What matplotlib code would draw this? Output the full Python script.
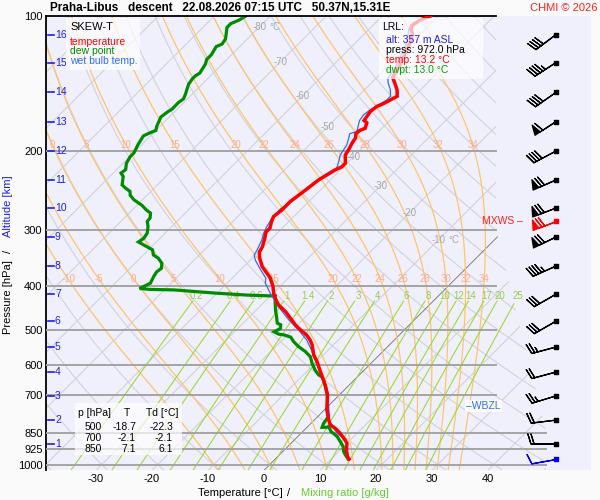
import numpy as np
import matplotlib
matplotlib.use("Agg")
import matplotlib.pyplot as plt
from matplotlib.patches import Polygon, Rectangle

plt.rcParams['font.family'] = ['Liberation Sans', 'DejaVu Sans']

# ---------------- data ----------------
station = "Praha-Libus"
mode = "descent"
stamp = "22.08.2026 07:15 UTC"
coords = "50.37N,15.31E"

# temperature profile
t_p = [972, 961, 928, 897, 882, 852, 830, 816, 796, 756, 700, 668, 648, 616, 590, 570, 541, 528,
       514, 500, 488, 472, 456, 441, 426, 415, 401, 384, 375, 362, 347, 336, 327, 313, 303, 297,
       287, 280, 271, 259, 246, 232, 220, 217, 213, 204, 199, 192, 187, 183, 180, 178, 173, 171,
       163, 159, 157, 154, 151, 146, 142, 137, 132, 125, 119, 114, 110, 107, 105, 102, 100]
t_val = [13.2, 12.5, 11.1, 10.0, 9.1, 7.0, 5.2, 3.75, 2.6, 0.5, -2.1, -4.1, -5.5, -7.9, -9.9, -11.7,
         -13.8, -15.0, -16.6, -18.7, -20.4, -22.4, -24.5, -26.9, -28.7, -29.9, -31.2, -33.2, -34.6,
         -36.7, -38.6, -39.8, -40.2, -41.3, -42.2, -42.2, -43.1, -43.6, -43.3, -43.3, -42.7, -42.1,
         -40.9, -40.3, -40.3, -41.8, -42.1, -42.7, -43.0, -43.7, -43.6, -43.0, -43.7, -44.6, -45.1,
         -44.8, -44.2, -43.6, -43.0, -44.2, -45.5, -47.2, -47.7, -48.6, -49.6, -50.4, -51.3, -52.5,
         -53.0, -52.5, -51.4]

# dew point profile
td_p = [972, 952, 936, 912, 889, 878, 867, 852, 845, 823, 826, 826, 809, 796, 782, 756, 700, 668,
        648, 638, 631, 616, 595, 575, 560, 546, 532, 520, 514, 512, 506, 497, 488, 484, 468, 452,
        430, 421, 419, 415, 408, 407, 405, 401, 394, 381, 372, 365, 356, 347, 341, 332, 327, 321,
        319, 313, 305, 295, 287, 282, 275, 271, 264, 257, 251, 246, 242, 238, 228, 224, 220, 213,
        206, 202, 193, 185, 182, 180, 176, 168, 164, 161, 156, 153, 149, 142, 138, 136, 134, 128,
        125, 122, 117, 115.5, 112.5, 106, 104, 102, 101, 100]
td_val = [13.0, 11.8, 10.9, 9.9, 8.5, 7.8, 7.1, 5.8, 5.1, 3.75, 3.45, 2.7, 2.25, 2.1, 1.9, 0.5,
          -2.1, -4.1, -5.5, -6.3, -7.3, -8.75, -10.5, -12.0, -13.8, -15.9, -17.7, -19.0, -20.6,
          -21.7, -22.9, -22.4, -23.0, -23.9, -25.2, -26.6, -28.4, -29.1, -34.3, -40.0, -48.3, -52.6,
          -54.7, -54.3, -53.7, -54.3, -54.6, -54.4, -55.2, -56.7, -58.2, -59.3, -60.8, -62.6, -63.2,
          -62.9, -63.2, -64.2, -65.3, -65.4, -66.2, -67.4, -69.2, -71.5, -73.0, -73.75, -75.1, -76.3,
          -77.6, -78.6, -78.4, -79.4, -79.9, -79.9, -80.7, -81.25, -80.6, -80.0, -80.6, -81.5,
          -81.25, -80.9, -80.96, -80.7, -81.25, -82.4, -82.7, -82.7, -82.4, -83.0, -83.6, -83.6,
          -84.2, -83.6, -83.9, -85.7, -85.7, -84.8, -84.6, -84.4]

# wet bulb temperature profile
tw_p = [972, 961, 928, 892, 867, 855, 838, 823, 796, 743, 700, 668, 648, 637, 610, 590, 560, 528,
        501, 476, 445, 415, 394, 384, 368, 350, 341, 332, 316, 305, 295, 282, 269, 259, 242, 230,
        222, 219, 211, 204, 199, 194, 187, 183, 181, 177, 171, 166, 162, 158, 154, 151, 146, 141,
        138, 132, 125, 119, 114, 107, 105.6, 103.8, 100.7, 100]
tw_val = [13.1, 12.4, 10.9, 9.9, 7.9, 6.7, 5.5, 4.4, 2.7, 0.2, -2.1, -4.1, -5.5, -6.4, -8.5, -10.1,
          -12.6, -15.6, -18.9, -22.4, -26.6, -30.5, -33.2, -34.0, -36.4, -39.1, -40.2, -40.6, -41.5,
          -42.4, -43.0, -43.6, -43.75, -43.0, -42.7, -42.1, -41.5, -40.9, -41.8, -42.7, -43.0, -43.3,
          -44.2, -44.8, -43.9, -44.5, -45.4, -45.7, -45.4, -44.8, -44.2, -44.2, -45.4, -47.0, -47.8,
          -48.3, -49.2, -50.2, -51.0, -52.9, -53.1, -53.2, -52.1, -51.6]

# altitude scale (km) and the pressure where each km sits
alt_km = [1, 2, 3, 4, 5, 6, 7, 8, 9, 10, 11, 12, 13, 14, 15, 16]
alt_p = [900, 796, 703, 622, 547, 479, 417, 361, 311, 268, 232, 200, 172, 148, 127, 110]

# winds: surface + every km
wind_p = [972] + alt_p
wind_dir = [260, 270, 263, 253, 255, 255, 240, 240, 246, 244, 249, 246, 242, 237, 235, 237, 233]
wind_spd = [10, 20, 20, 25, 20, 25, 30, 30, 45, 70, 70, 70, 40, 60, 40, 45, 40]
mxws_p, mxws_dir, mxws_spd = 287, 249, 70
wbzl_p = 740

# lowest reported level
lrl_alt, lrl_press, lrl_temp, lrl_dwpt = 357, 972.0, 13.2, 13.0

# summary table
tab_p = [500, 700, 850]
tab_t = [-18.7, -2.1, 7.1]
tab_td = [-22.3, -2.1, 6.1]

# diagram furniture
p_ticks = [100, 200, 300, 400, 500, 600, 700, 850, 925, 1000]
t_ticks = [-30, -20, -10, 0, 10, 20, 30, 40]
isotherms = list(range(-120, 60, 10))
dry_theta = list(range(-40, 210, 10))
moist_thw = [-10, -5, 0, 5, 10, 15, 20, 22, 24, 26, 28, 30, 32, 34]
mix_ratios = [0.2, 0.4, 0.6, 1, 1.4, 2, 3, 4, 6, 8, 10, 12, 14, 17, 20, 25]
iso_lab_t = [-80, -70, -60, -50, -40, -30, -20, -10]
iso_lab_p = [105.8, 126.6, 150.8, 176.8, 206.2, 239.3, 274.9, 315.8]

# ---------------- layout ----------------
W, H = 600, 500
P_BOT, P_TOP = 1030.0, 100.0
PXC = 5.6                     # px per degC
PXL = 194.8                   # px per ln(p)
SKEW = PXL / PXC              # 45 degree skew
X0PX = 264.0                  # px of 0 degC at bottom


def px2X(px):
    return (px - X0PX) / PXC


def py2p(py):
    return 100.0 * np.exp((py - 16.0) / PXL)


def sk(T, p):
    return np.asarray(T, float) + SKEW * np.log(P_BOT / np.asarray(p, float))


def fx(px):
    return px / W


def fy(py):
    return 1 - py / H


XMIN, XMAX = px2X(46), px2X(591)
ybot = 16 + PXL * np.log(P_BOT / 100.0)

fig = plt.figure(figsize=(6, 5), dpi=100, facecolor='#FAFAFA')
ax = fig.add_axes([46 / W, 1 - ybot / H, 545 / W, (ybot - 16) / H])
ax.set_yscale('log')
ax.set_ylim(P_BOT, P_TOP)
ax.set_xlim(XMIN, XMAX)
ax.set_facecolor('#F0F0FC')
for s in ['top', 'right', 'bottom']:
    ax.spines[s].set_visible(False)
ax.spines['left'].set_linewidth(1.3)
ax.spines['left'].set_color('black')

clip = Polygon([(XMIN, P_TOP), (px2X(496), P_TOP), (px2X(496), py2p(230)),
                (px2X(546), py2p(430)), (px2X(546), P_BOT), (XMIN, P_BOT)],
               closed=True, transform=ax.transData, fc='none', ec='none')

pg = np.geomspace(P_TOP, P_BOT, 80)
# isotherms
for T in isotherms:
    if T == 0:
        ln, = ax.plot(sk(T, pg), pg, color='#6E6E6E', lw=0.6, zorder=2)
    else:
        ln, = ax.plot(sk(T, pg), pg, color='#D2D2DA', lw=0.8, zorder=1)
    ln.set_clip_path(clip)
# dry adiabats
for th in dry_theta:
    Tt = (th + 273.15) * (pg / 1000.0) ** 0.2857 - 273.15
    ln, = ax.plot(sk(Tt, pg), pg, color='#D2D2DA', lw=0.8, zorder=1)
    ln.set_clip_path(clip)


# moist (pseudo) adiabats
def dTdp(T, p):
    es = 6.112 * np.exp(17.67 * (T - 273.15) / (T - 29.65))
    rs = 0.622 * es / (p - es)
    num = 287.04 * T + 2.501e6 * rs
    den = 1005.7 + (2.501e6 ** 2) * rs * 0.622 / (287.04 * T * T)
    return num / den / p


def integrate(T0, p0, p1, n):
    h = (p1 - p0) / n
    T = T0.copy()
    p = p0
    out = [T.copy()]
    ps = [p]
    for _ in range(n):
        k1 = dTdp(T, p)
        k2 = dTdp(T + h / 2 * k1, p + h / 2)
        k3 = dTdp(T + h / 2 * k2, p + h / 2)
        k4 = dTdp(T + h * k3, p + h)
        T = T + h / 6 * (k1 + 2 * k2 + 2 * k3 + k4)
        p = p + h
        out.append(T.copy())
        ps.append(p)
    return np.array(ps), np.array(out)


thw = np.array(moist_thw, float) + 273.15
pu, Tu = integrate(thw, 1000.0, P_TOP, 900)
pd, Td_ = integrate(thw, 1000.0, P_BOT, 30)
mp = np.concatenate([pd[::-1], pu[1:]])
mT = np.concatenate([Td_[::-1], Tu[1:]]) - 273.15
for i, tw in enumerate(moist_thw):
    ln, = ax.plot(sk(mT[:, i], mp), mp, color='#FFC46A', lw=0.9, zorder=2)
    ln.set_clip_path(clip)


def moist_T_at(i, p):
    lp = np.log(mp[::-1])
    return np.interp(np.log(p), lp, mT[::-1, i])


for i, tw in enumerate(moist_thw):
    for plab in (193.9, 385.8):
        X = sk(moist_T_at(i, plab), plab)
        if XMIN + 0.8 < X < XMAX:
            ax.text(X, plab, f"{tw:g}", color='#FFAA8C', fontsize=7, ha='center', va='center',
                    zorder=3)

# mixing ratio lines
pm = np.geomspace(432, P_BOT, 40)
for w in mix_ratios:
    es = (w / 1000.0) * pm / (0.622 + w / 1000.0)
    l = np.log(es / 6.112)
    Tm = 243.5 * l / (17.67 - l)
    ln, = ax.plot(sk(Tm, pm), pm, color='#A0D83A', lw=0.8, zorder=2)
    ln.set_clip_path(clip)
    pl = 421.0
    esl = (w / 1000.0) * pl / (0.622 + w / 1000.0)
    ll = np.log(esl / 6.112)
    ax.text(sk(243.5 * ll / (17.67 - ll), pl), pl, f"{w:g}", color='#99CC44', fontsize=7,
            ha='center', va='center', zorder=3)

# isotherm labels
for T, p in zip(iso_lab_t, iso_lab_p):
    ax.text(sk(T, p), p, f"{T}", color='#A8A8A8', fontsize=7, ha='center', va='center', zorder=3)
    if T in (-80, -10):
        ax.annotate("°C", xy=(sk(T, p), p), xytext=(10, 0), textcoords='offset pixels',
                    color='#A8A8A8', fontsize=7, ha='left', va='center', zorder=3)

# isobars
for p in p_ticks[1:]:
    xr = px2X(546) if p >= 850 else px2X(496)
    ax.plot([XMIN, xr], [p, p], color='#A4A4A4', lw=1.4, zorder=3)
ax.plot([XMIN, px2X(496)], [P_TOP, P_TOP], color='black', lw=1.3, zorder=6, clip_on=False)

# profiles
ax.plot(sk(td_val, td_p), td_p, color='#008C00', lw=2.3, zorder=5, solid_joinstyle='miter')
ax.plot(sk(tw_val, tw_p), tw_p, color='#2F6BFF', lw=0.9, zorder=5)
ax.plot(sk(t_val, t_p), t_p, color='#FF0000', lw=2.5, zorder=6, solid_joinstyle='miter')

# altitude ticks
for km, p in zip(alt_km, alt_p):
    ax.plot([px2X(47.5), px2X(53.5)], [p, p], color='#1E1EE6', lw=1.2, zorder=7, clip_on=False)
    ax.text(px2X(55), p, str(km), color='#1E1EE6', fontsize=7.5, ha='left', va='center', zorder=7)

# wind barbs
BL = 6.0
bx = px2X(556)
d = np.deg2rad(np.array(wind_dir, float))
s = np.array(wind_spd, float)
u = -s * np.sin(d)
v = -s * np.cos(d)
ax.barbs(np.full(len(wind_p) - 1, bx), wind_p[1:], u[1:], v[1:], length=BL, color='black',
         lw=0.9, zorder=7)
ax.barbs([bx], [wind_p[0]], [u[0]], [v[0]], length=BL, color='#0000EE', lw=0.9, zorder=7)
dm = np.deg2rad(mxws_dir)
ax.barbs([bx], [mxws_p], [-mxws_spd * np.sin(dm)], [-mxws_spd * np.cos(dm)], length=BL,
         color='#FF0000', lw=0.9, zorder=7)
ax.scatter(np.full(len(wind_p) - 1, bx), wind_p[1:], s=7, marker='s', color='black', zorder=8)
ax.scatter([bx], [wind_p[0]], s=7, marker='s', color='#0000EE', zorder=8)
ax.scatter([bx], [mxws_p], s=7, marker='s', color='#FF0000', zorder=8)
ax.text(px2X(482), mxws_p, "MXWS –", color='#FF2020', fontsize=7.5, ha='left', va='center',
        zorder=8)

# WBZL
ax.text(px2X(466), wbzl_p, "–WBZL", color='#2F6BFF', fontsize=7.5, ha='left', va='center',
        zorder=8, bbox=dict(boxstyle='square,pad=0.1', fc='white', ec='none', alpha=0.85))

# axes ticks
ax.set_yticks(p_ticks)
ax.set_yticklabels([str(p) for p in p_ticks])
ax.yaxis.set_minor_locator(matplotlib.ticker.NullLocator())
ax.set_xticks(t_ticks)
ax.set_xticklabels([str(t) for t in t_ticks])
ax.tick_params(axis='y', length=0, pad=2.5, labelsize=8)
ax.tick_params(axis='x', length=0, pad=3, labelsize=8)

# legend box
fig.patches.append(Rectangle((fx(66), fy(70)), 74 / W, 52 / H, transform=fig.transFigure,
                             fc='white', ec='none', alpha=0.7, zorder=10))
fig.text(fx(70), fy(26.5), "SKEW-T", fontsize=8, color='black', va='center', zorder=11)
fig.text(fx(70), fy(42), "temperature", fontsize=7.5, color='#FF0000', va='center', zorder=11)
fig.text(fx(70), fy(51.5), "dew point", fontsize=7.5, color='#008C00', va='center', zorder=11)
fig.text(fx(70), fy(61.5), "wet bulb temp.", fontsize=7.5, color='#2F6BFF', va='center', zorder=11)

# LRL box
fig.patches.append(Rectangle((fx(379), fy(79)), 104 / W, 61 / H, transform=fig.transFigure,
                             fc='white', ec='none', alpha=0.7, zorder=10))
fig.text(fx(382), fy(27.5), "LRL:", fontsize=7.5, color='black', va='center', zorder=11)
fig.text(fx(386), fy(40), f"alt: {lrl_alt} m ASL", fontsize=7.5, color='#1E1EE6', va='center', zorder=11)
fig.text(fx(386), fy(50), f"press: {lrl_press:.1f} hPa", fontsize=7.5, color='black', va='center', zorder=11)
fig.text(fx(386), fy(60), f"temp: {lrl_temp:.1f} °C", fontsize=7.5, color='#FF0000', va='center', zorder=11)
fig.text(fx(386), fy(70), f"dwpt: {lrl_dwpt:.1f} °C", fontsize=7.5, color='#00A000', va='center', zorder=11)

# table box
fig.patches.append(Rectangle((fx(75), fy(455)), 107 / W, 52 / H, transform=fig.transFigure,
                             fc='white', ec='none', alpha=0.7, zorder=10))
fig.text(fx(78), fy(413.5), "p [hPa]", fontsize=7.5, va='center', zorder=11)
fig.text(fx(127), fy(413.5), "T", fontsize=7.5, va='center', ha='center', zorder=11)
fig.text(fx(146), fy(413.5), "Td [°C]", fontsize=7.5, va='center', zorder=11)
for k, (p, t, td) in enumerate(zip(tab_p, tab_t, tab_td)):
    yy = 427 + 11 * k
    fig.text(fx(102), fy(yy), f"{p}", fontsize=7.5, va='center', ha='right', zorder=11)
    fig.text(fx(136), fy(yy), f"{t:.1f}", fontsize=7.5, va='center', ha='right', zorder=11)
    fig.text(fx(173), fy(yy), f"{td:.1f}", fontsize=7.5, va='center', ha='right', zorder=11)

# titles and axis labels
fig.text(fx(50), fy(8), f"{station}   {mode}   {stamp}   {coords}", fontsize=8.5,
         fontweight='bold', va='center', ha='left')
fig.text(fx(597), fy(8), "CHMI © 2026", fontsize=8, color='#FF2020', va='center', ha='right')
fig.text(fx(240), fy(493), "Temperature [°C]", fontsize=8, ha='center', va='center')
fig.text(fx(289), fy(493), "/", fontsize=8, ha='center', va='center')
fig.text(fx(344.5), fy(493), "Mixing ratio [g/kg]", fontsize=8, color='#66CC33', ha='center', va='center')
fig.text(fx(8), fy(297), "Pressure [hPa]", fontsize=8, rotation=90, ha='center', va='center')
fig.text(fx(8), fy(251), "/", fontsize=8, rotation=90, ha='center', va='center')
fig.text(fx(8), fy(206), "Altitude [km]", fontsize=8, rotation=90, color='#1E1EE6', ha='center', va='center')

fig.savefig("out.png", dpi=100, facecolor=fig.get_facecolor())
